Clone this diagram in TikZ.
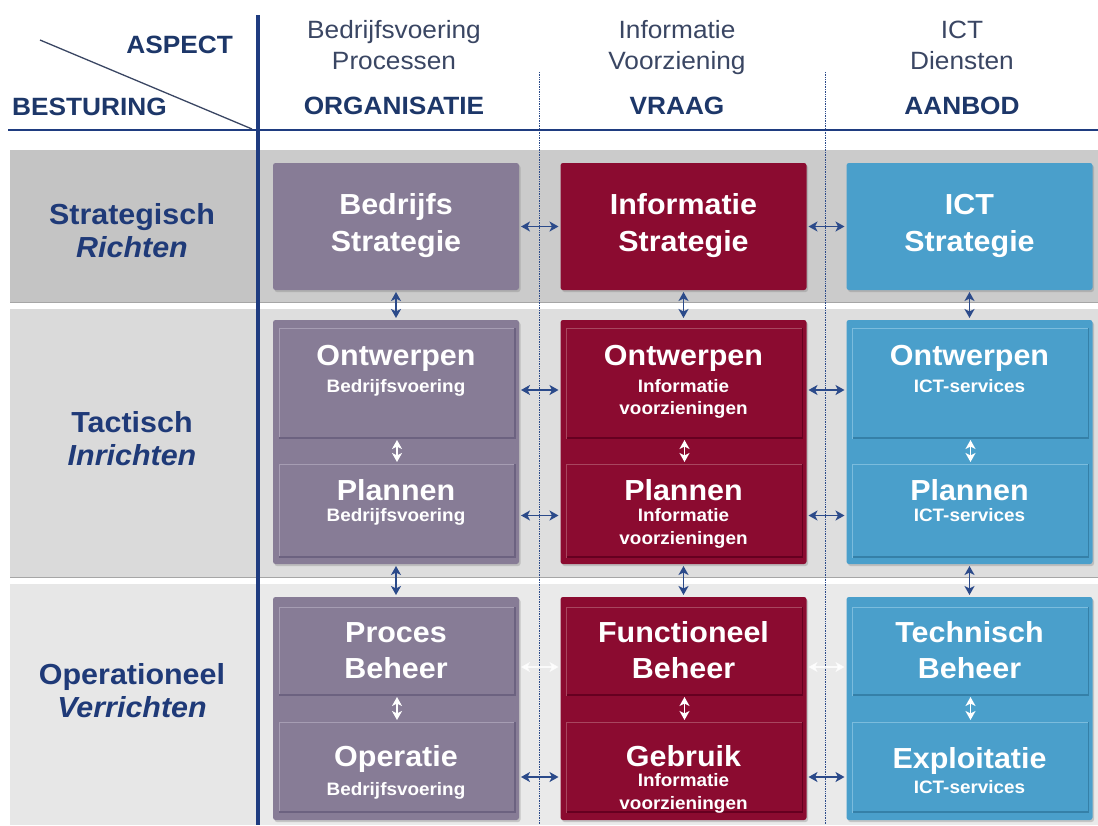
\documentclass[tikz,border=0pt]{standalone}
\usepackage{fontspec}
\setmainfont{Liberation Sans}[FakeStretch=1.05]
\usetikzlibrary{arrows.meta,shadows,calc}
\definecolor{navy}{HTML}{1F3C80}
\definecolor{hdr}{HTML}{3A4663}
\definecolor{hdrb}{HTML}{1D3769}
\definecolor{lbl}{HTML}{1F3A78}
\definecolor{purp}{HTML}{877C96}
\definecolor{purpL}{HTML}{A69DB3}
\definecolor{purpD}{HTML}{6C6280}
\definecolor{maro}{HTML}{8B0B30}
\definecolor{maroL}{HTML}{A8465F}
\definecolor{maroD}{HTML}{660020}
\definecolor{blu}{HTML}{4A9FCB}
\definecolor{bluL}{HTML}{7BBCDD}
\definecolor{bluD}{HTML}{3580A8}
\definecolor{arrc}{HTML}{2B4A8A}
\definecolor{bandSL}{HTML}{C4C4C4}
\definecolor{bandSR}{HTML}{CBCBCB}
\definecolor{bandTL}{HTML}{DADADA}
\definecolor{bandTR}{HTML}{DEDEDE}
\definecolor{bandOL}{HTML}{E7E7E7}
\definecolor{bandOR}{HTML}{EAEAEA}
\tikzset{
 obox/.style={rounded corners=2.5pt, minimum width=246pt, inner sep=0pt, outer sep=0pt,
   drop shadow={shadow xshift=1.5pt, shadow yshift=-2pt, opacity=0.35}},
 ibox/.style={minimum width=236pt, inner sep=0pt, outer sep=0pt, line width=1pt},
 ttl/.style={text=white, font=\fontsize{29}{33}\selectfont\bfseries, anchor=base, inner sep=0pt},
 subt/.style={text=white, font=\fontsize{18}{22}\selectfont\bfseries, anchor=base, inner sep=0pt},
 hreg/.style={text=hdr, font=\fontsize{25}{30}\selectfont, anchor=base, inner sep=0pt},
 hbold/.style={text=hdrb, font=\fontsize{25}{30}\selectfont\bfseries, anchor=base, inner sep=0pt},
 lab/.style={text=lbl, font=\fontsize{29}{33}\selectfont\bfseries, anchor=base, inner sep=0pt},
 labi/.style={text=lbl, font=\fontsize{29}{33}\selectfont\bfseries\itshape, anchor=base, inner sep=0pt},
 harr/.style={<->, >={Stealth[length=9pt,width=10pt,inset=2.5pt]}, line width=1.8pt, draw=arrc,
   shorten <=2pt, shorten >=2pt},
 warr/.style={harr, draw=white},
 farr/.style={harr, draw=white, opacity=0.8},
 dotl/.style={draw=arrc, densely dotted, line width=0.7pt},
 bandedge/.style={draw=gray!70, line width=0.8pt},
}
\begin{document}
\begin{tikzpicture}[x=1pt,y=-1pt]
\useasboundingbox (0,0) rectangle (1098,825);
\fill[white] (0,0) rectangle (1098,825);
% bands
\fill[bandSR] (10,150) rectangle (1098,302);
\fill[bandSL] (10,150) rectangle (258,302);
\draw[bandedge] (10,302) -- (1098,302);
\fill[bandTR] (10,309) rectangle (1098,577);
\fill[bandTL] (10,309) rectangle (258,577);
\draw[bandedge] (10,577) -- (1098,577);
\fill[bandOR] (10,584) rectangle (1098,825);
\fill[bandOL] (10,584) rectangle (258,825);
% dotted column separators
\draw[dotl] (539,72) -- (539,825);
\draw[dotl] (825,72) -- (825,825);
% header lines
\draw[navy, line width=2.5pt] (8,130) -- (1098,130);
\draw[hdr, line width=1.3pt] (40,40) -- (252,129);
\draw[navy, line width=4pt] (258,15) -- (258,825);

% headers
\node[hbold, anchor=base east] (aspect) at (233,53) {ASPECT};
\node[hbold, anchor=base west] (best) at (12,115) {BESTURING};
\node[hreg] (h1a) at (394,38) {Bedrijfsvoering};
\node[hreg] (h1b) at (394,69) {Processen};
\node[hbold] (h1c) at (394,114) {ORGANISATIE};
\node[hreg] (h2a) at (677,38) {Informatie};
\node[hreg] (h2b) at (677,69) {Voorziening};
\node[hbold] (h2c) at (677,114) {VRAAG};
\node[hreg] (h3a) at (962,38) {ICT};
\node[hreg] (h3b) at (962,69) {Diensten};
\node[hbold] (h3c) at (962,114) {AANBOD};

% row labels
\node[lab] (l1a) at (132,224) {Strategisch};
\node[labi] (l1b) at (132,257) {Richten};
\node[lab] (l2a) at (132,432) {Tactisch};
\node[labi] (l2b) at (132,465) {Inrichten};
\node[lab] (l3a) at (132,684) {Operationeel};
\node[labi] (l3b) at (132,717) {Verrichten};

% strategic boxes
\node[obox, fill=purp, minimum height=127pt] (s1) at (396,226.5) {};
\node[obox, fill=maro, minimum height=127pt] (s2) at (683.5,226.5) {};
\node[obox, fill=blu, minimum height=127pt] (s3) at (969.5,226.5) {};
% tactical boxes
\node[obox, fill=purp, minimum height=244pt] (t1) at (396,442) {};
\node[obox, fill=maro, minimum height=244pt] (t2) at (683.5,442) {};
\node[obox, fill=blu, minimum height=244pt] (t3) at (969.5,442) {};
\node[ibox, fill=purp, draw=purpL, minimum height=110pt] (t1a) at (397,383) {};
\node[ibox, fill=purp, draw=purpL, minimum height=93pt] (t1b) at (397,510.5) {};
\node[ibox, fill=maro, draw=maroL, minimum height=110pt] (t2a) at (684.5,383) {};
\node[ibox, fill=maro, draw=maroL, minimum height=93pt] (t2b) at (684.5,510.5) {};
\node[ibox, fill=blu, draw=bluL, minimum height=110pt] (t3a) at (970.5,383) {};
\node[ibox, fill=blu, draw=bluL, minimum height=93pt] (t3b) at (970.5,510.5) {};
% operational boxes
\node[obox, fill=purp, minimum height=223pt] (o1) at (396,708.5) {};
\node[obox, fill=maro, minimum height=223pt] (o2) at (683.5,708.5) {};
\node[obox, fill=blu, minimum height=223pt] (o3) at (969.5,708.5) {};
\node[ibox, fill=purp, draw=purpL, minimum height=88pt] (o1a) at (397,651) {};
\node[ibox, fill=purp, draw=purpL, minimum height=90pt] (o1b) at (397,767) {};
\node[ibox, fill=maro, draw=maroL, minimum height=88pt] (o2a) at (684.5,651) {};
\node[ibox, fill=maro, draw=maroL, minimum height=90pt] (o2b) at (684.5,767) {};
\node[ibox, fill=blu, draw=bluL, minimum height=88pt] (o3a) at (970.5,651) {};
\node[ibox, fill=blu, draw=bluL, minimum height=90pt] (o3b) at (970.5,767) {};
% inner box dark edges
\foreach \n/\c in {t1a/purpD,t1b/purpD,o1a/purpD,o1b/purpD,t2a/maroD,t2b/maroD,o2a/maroD,o2b/maroD,t3a/bluD,t3b/bluD,o3a/bluD,o3b/bluD}
  \draw[draw=\c, line width=1.6pt] (\n.north east) -- (\n.south east) -- (\n.south west);

% texts strategic
\node[ttl] (s1x) at (396,214) {Bedrijfs};
\node[ttl] (s1y) at (396,251) {Strategie};
\node[ttl] (s2x) at (683.5,214) {Informatie};
\node[ttl] (s2y) at (683.5,251) {Strategie};
\node[ttl] (s3x) at (969.5,214) {ICT};
\node[ttl] (s3y) at (969.5,251) {Strategie};
% texts tactical
\node[ttl] (t1x) at (396,365) {Ontwerpen};
\node[subt] (t1y) at (396,392) {Bedrijfsvoering};
\node[ttl] (t2x) at (683.5,365) {Ontwerpen};
\node[subt] (t2y) at (683.5,392) {Informatie};
\node[subt] (t2z) at (683.5,414) {voorzieningen};
\node[ttl] (t3x) at (969.5,365) {Ontwerpen};
\node[subt] (t3y) at (969.5,392) {ICT-services};
\node[ttl] (t1p) at (396,500) {Plannen};
\node[subt] (t1q) at (396,521) {Bedrijfsvoering};
\node[ttl] (t2p) at (683.5,500) {Plannen};
\node[subt] (t2q) at (683.5,521) {Informatie};
\node[subt] (t2r) at (683.5,544) {voorzieningen};
\node[ttl] (t3p) at (969.5,500) {Plannen};
\node[subt] (t3q) at (969.5,521) {ICT-services};
% texts operational
\node[ttl] (o1x) at (396,642) {Proces};
\node[ttl] (o1y) at (396,678) {Beheer};
\node[ttl] (o2x) at (683.5,642) {Functioneel};
\node[ttl] (o2y) at (683.5,678) {Beheer};
\node[ttl] (o3x) at (969.5,642) {Technisch};
\node[ttl] (o3y) at (969.5,678) {Beheer};
\node[ttl] (o1p) at (396,766) {Operatie};
\node[subt] (o1q) at (396,795) {Bedrijfsvoering};
\node[ttl] (o2p) at (683.5,766) {Gebruik};
\node[subt] (o2q) at (683.5,786) {Informatie};
\node[subt] (o2r) at (683.5,809) {voorzieningen};
\node[ttl] (o3p) at (969.5,768) {Exploitatie};
\node[subt] (o3q) at (969.5,793) {ICT-services};

% horizontal arrows
\draw[harr] (s1.east) -- (s2.west);
\draw[harr] (s2.east) -- (s3.west);
\draw[harr] ($(t1.east|-t1a.center)+(0,7)$) -- ($(t2.west|-t1a.center)+(0,7)$);
\draw[harr] ($(t2.east|-t2a.center)+(0,7)$) -- ($(t3.west|-t2a.center)+(0,7)$);
\draw[harr] ($(t1.east|-t1b.center)+(0,5)$) -- ($(t2.west|-t1b.center)+(0,5)$);
\draw[harr] ($(t2.east|-t2b.center)+(0,5)$) -- ($(t3.west|-t2b.center)+(0,5)$);
\draw[farr] ($(o1.east|-o1a.center)+(0,16)$) -- ($(o2.west|-o1a.center)+(0,16)$);
\draw[farr] ($(o2.east|-o2a.center)+(0,16)$) -- ($(o3.west|-o2a.center)+(0,16)$);
\draw[harr] ($(o1.east|-o1b.center)+(0,10)$) -- ($(o2.west|-o1b.center)+(0,10)$);
\draw[harr] ($(o2.east|-o2b.center)+(0,10)$) -- ($(o3.west|-o2b.center)+(0,10)$);
% vertical arrows between rows
\draw[harr] (s1.south) -- (t1.north);
\draw[harr] (s2.south) -- (t2.north);
\draw[harr] (s3.south) -- (t3.north);
\draw[harr] (t1.south) -- (o1.north);
\draw[harr] (t2.south) -- (o2.north);
\draw[harr] (t3.south) -- (o3.north);
% vertical white arrows inside boxes
\draw[warr] (t1a.south) -- (t1b.north);
\draw[warr] (t2a.south) -- (t2b.north);
\draw[warr] (t3a.south) -- (t3b.north);
\draw[warr] (o1a.south) -- (o1b.north);
\draw[warr] (o2a.south) -- (o2b.north);
\draw[warr] (o3a.south) -- (o3b.north);
\end{tikzpicture}
\end{document}
